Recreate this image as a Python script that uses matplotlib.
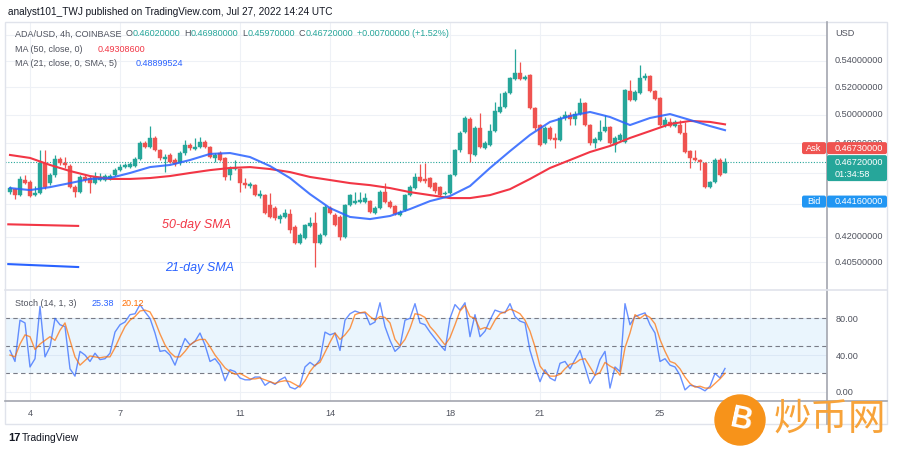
import numpy as np
import pandas as pd
import matplotlib
matplotlib.use("Agg")
import matplotlib.pyplot as plt
import matplotlib.dates as mdates
from matplotlib.patches import Rectangle, Circle, FancyBboxPatch
from matplotlib.lines import Line2D
from matplotlib.ticker import NullLocator, NullFormatter
from matplotlib.transforms import IdentityTransform

plt.rcParams['font.family'] = ['Liberation Sans', 'DejaVu Sans']

# ADA/USD 4h candles, first candle 2022-07-03 08:00
first_candle = "2022-07-03 08:00"
opens = [.4476, .4495, .4457, .4554, .4541, .4457, .4470, .4666, .4534, .4587,
         .4693, .4666, .4646, .4508, .4476, .4574, .4567, .4534, .4554, .4554,
         .4561, .4587, .4619, .4639, .4639, .4646, .4693, .4802, .4774, .4836,
         .4753, .4693, .4720, .4686, .4666, .4733, .4788, .4760, .4774, .4808,
         .4774, .4700, .4733, .4700, .4587, .4626, .4626, .4534, .4515, .4521,
         .4451, .4457, .4394, .4375, .4307, .4320, .4338, .4259, .4163, .4192,
         .4265, .4283, .4163, .4210, .4375, .4332, .4320, .4198, .4394, .4406,
         .4413, .4413, .4419, .4344, .4375, .4476, .4413, .4388, .4332, .4363,
         .4457, .4502, .4574, .4561, .4567, .4534, .4508, .4463, .4470, .4587,
         .4753, .4877, .4969, .4720, .4905, .4767, .4788, .4884, .5019, .5055,
         .5157, .5261, .5306, .5261, .5291, .5047, .4926, .4802, .4905, .4836,
         .4822, .4976, .4997, .4969, .5004, .5083, .4926, .4802, .4822, .4884,
         .4912, .4788, .4822, .4808, .5172, .5105, .5157, .5268, .5283, .5172,
         .5120, .4926, .4948, .4919, .4926, .4871, .4746, .4700, .4686, .4666,
         .4508, .4541, .4686, .4602]
highs = [.4515, .4502, .4580, .4587, .4554, .4515, .4753, .4753, .4600, .4720,
         .4706, .4706, .4660, .4521, .4587, .4587, .4580, .4606, .4600, .4593,
         .4593, .4633, .4660, .4666, .4673, .4706, .4815, .4815, .4919, .4850,
         .4760, .4727, .4733, .4700, .4746, .4822, .4802, .4836, .4843, .4822,
         .4781, .4733, .4746, .4706, .4646, .4686, .4633, .4567, .4541, .4528,
         .4489, .4463, .4470, .4388, .4338, .4369, .4369, .4271, .4222, .4277,
         .4320, .4351, .4222, .4394, .4388, .4344, .4332, .4400, .4463, .4476,
         .4476, .4470, .4425, .4388, .4489, .4534, .4425, .4394, .4363, .4463,
         .4521, .4600, .4660, .4666, .4574, .4541, .4515, .4483, .4593, .4760,
         .4884, .4990, .4983, .4919, .5011, .4815, .4933, .5091, .5157, .5172,
         .5276, .5491, .5390, .5291, .5299, .5055, .4933, .4919, .4919, .4871,
         .4990, .5026, .5019, .5026, .5120, .5091, .4933, .4843, .4962, .4997,
         .4919, .4850, .4871, .5186, .5253, .5179, .5367, .5306, .5291, .5179,
         .5127, .4983, .4976, .4962, .4962, .4948, .4753, .4753, .4693, .4673,
         .4547, .4700, .4700, .4698]
lows = [.4463, .4431, .4451, .4528, .4444, .4451, .4463, .4495, .4521, .4574,
        .4653, .4633, .4502, .4444, .4470, .4541, .4470, .4528, .4547, .4547,
        .4554, .4580, .4613, .4633, .4633, .4639, .4686, .4767, .4767, .4746,
        .4686, .4606, .4666, .4646, .4653, .4720, .4753, .4753, .4767, .4767,
        .4700, .4673, .4679, .4554, .4554, .4619, .4476, .4502, .4502, .4451,
        .4438, .4338, .4313, .4301, .4283, .4313, .4222, .4157, .4157, .4186,
        .4259, .4022, .4157, .4204, .4338, .4265, .4180, .4192, .4388, .4400,
        .4406, .4406, .4344, .4338, .4369, .4406, .4375, .4332, .4326, .4357,
        .4451, .4495, .4541, .4534, .4502, .4470, .4451, .4457, .4463, .4580,
        .4740, .4871, .4673, .4713, .4767, .4760, .4781, .4877, .5011, .5047,
        .5149, .5253, .5253, .5253, .5040, .4891, .4781, .4795, .4822, .4767,
        .4815, .4962, .4926, .4926, .4997, .4919, .4788, .4767, .4815, .4877,
        .4795, .4740, .4815, .4802, .5098, .5098, .5149, .5253, .5164, .5105,
        .4919, .4912, .4912, .4912, .4864, .4733, .4633, .4679, .4619, .4502,
        .4502, .4534, .4580, .4597]
closes = [.4502, .4457, .4561, .4534, .4451, .4470, .4666, .4508, .4587, .4693,
          .4666, .4653, .4508, .4476, .4574, .4554, .4534, .4574, .4574, .4580,
          .4580, .4619, .4639, .4653, .4660, .4693, .4802, .4774, .4836, .4753,
          .4700, .4706, .4673, .4660, .4733, .4788, .4767, .4774, .4808, .4774,
          .4706, .4720, .4686, .4574, .4633, .4633, .4534, .4521, .4528, .4457,
          .4463, .4344, .4320, .4313, .4326, .4344, .4240, .4163, .4210, .4271,
          .4283, .4163, .4210, .4382, .4344, .4271, .4198, .4394, .4457, .4419,
          .4425, .4438, .4351, .4375, .4476, .4413, .4382, .4338, .4351, .4457,
          .4508, .4574, .4547, .4547, .4508, .4483, .4457, .4470, .4587, .4753,
          .4871, .4976, .4727, .4905, .4774, .4802, .4884, .5026, .5055, .5157,
          .5268, .5306, .5261, .5276, .5047, .4905, .4788, .4905, .4829, .4822,
          .4976, .4997, .4969, .5004, .5083, .4926, .4802, .4829, .4877, .4912,
          .4802, .4836, .4857, .5179, .5105, .5164, .5268, .5283, .5172, .5112,
          .4926, .4962, .4919, .4948, .4871, .4740, .4700, .4686, .4673, .4508,
          .4541, .4686, .4587, .4672]

# moving averages, read every 4th candle (plus the last one)
ma50 = [.4720, .4700, .4653, .4613, .4580, .4561, .4561, .4567, .4580, .4600,
        .4619, .4633, .4639, .4626, .4606, .4574, .4554, .4534, .4521, .4502,
        .4476, .4457, .4438, .4438, .4457, .4495, .4561, .4633, .4686, .4740,
        .4781, .4836, .4884, .4933, .4955, .4948, .49309]
ma21 = [.4502, .4489, .4508, .4534, .4561, .4567, .4600, .4639, .4653, .4686,
        .4727, .4733, .4706, .4646, .4567, .4463, .4375, .4320, .4307, .4326,
        .4369, .4419, .4451, .4515, .4633, .4746, .4857, .4948, .4990, .5019,
        .4983, .4926, .4976, .5004, .4962, .4919, .48900]

# Stoch (14, 1, 3)
stoch_k = [45, 33, 78, 75, 27, 36, 93, 38, 49, 80,
           73, 71, 25, 17, 44, 40, 33, 42, 35, 36,
           42, 65, 73, 76, 84, 85, 95, 87, 80, 64,
           44, 45, 40, 29, 44, 58, 51, 55, 64, 51,
           33, 36, 29, 12, 24, 22, 15, 13, 13, 16,
           16, 7, 11, 8, 13, 16, 5, 3, 7, 27,
           32, 28, 35, 65, 62, 64, 45, 78, 85, 88,
           86, 86, 73, 76, 97, 71, 56, 44, 49, 78,
           80, 96, 75, 73, 65, 58, 51, 45, 80, 95,
           89, 97, 60, 84, 60, 66, 78, 89, 87, 86,
           96, 82, 77, 75, 45, 27, 11, 24, 15, 12,
           31, 33, 25, 35, 45, 27, 9, 18, 35, 44,
           4, 27, 22, 96, 73, 82, 84, 86, 73, 64,
           33, 36, 29, 27, 18, 2, 7, 6, 4, 1,
           6, 20, 15, 25.38]
stoch_d = [40, 38, 52, 62, 60, 46, 52, 56, 60, 56,
           67, 75, 56, 38, 29, 34, 39, 38, 37, 38,
           38, 48, 60, 71, 78, 82, 88, 89, 87, 77,
           63, 51, 43, 38, 38, 44, 51, 55, 57, 57,
           49, 40, 33, 26, 22, 19, 20, 17, 14, 14,
           15, 13, 11, 9, 11, 12, 11, 8, 5, 12,
           22, 29, 32, 43, 54, 64, 57, 62, 69, 84,
           86, 87, 82, 78, 82, 81, 75, 57, 50, 57,
           69, 85, 84, 81, 71, 65, 58, 51, 59, 73,
           88, 94, 82, 80, 68, 70, 68, 78, 85, 87,
           90, 88, 85, 78, 66, 49, 28, 21, 17, 17,
           19, 25, 30, 31, 35, 36, 27, 18, 21, 32,
           28, 25, 18, 48, 64, 84, 80, 84, 81, 74,
           57, 44, 33, 31, 25, 16, 9, 5, 6, 4,
           4, 9, 14, 20.12]

grid_prices = [0.405, 0.42, 0.44, 0.46, 0.48, 0.50, 0.52, 0.54, 0.56]
label_prices = [0.405, 0.42, 0.48, 0.50, 0.52, 0.54]   # the others sit under price tags
day_ticks = ["2022-07-04", "2022-07-07", "2022-07-11", "2022-07-14",
             "2022-07-18", "2022-07-21", "2022-07-25", "2022-07-28"]
last_price, ask_price, bid_price = 0.4672, 0.4673, 0.4416

UP, DOWN = '#26a69a', '#ef5350'
RED, BLUE, ORANGE = '#f23645', '#2962ff', '#ff6d00'
GREY = '#50535e'
W, H = 900, 454

o, h, l, c = map(np.array, (opens, highs, lows, closes))
times = pd.date_range(first_candle, periods=len(closes), freq="4h")
x = mdates.date2num(times)
ma_idx = list(range(0, len(closes) - 3, 4)) + [len(closes) - 1]
x_ma = x[ma_idx]
bar_w = 0.7 * 4 / 24

fig = plt.figure(figsize=(W / 100, H / 100), dpi=100)
ax = fig.add_axes([5 / W, 1 - 290 / H, 822 / W, 267 / H])
ax2 = fig.add_axes([5 / W, 1 - 401 / H, 822 / W, 111 / H], sharex=ax)

# candles
cols = np.where(c >= o, UP, DOWN)
ax.vlines(x, l, h, colors=cols, lw=0.9, zorder=2)
ax.bar(x, np.abs(c - o), bottom=np.minimum(o, c), width=bar_w, color=cols,
       edgecolor=cols, linewidth=0.3, zorder=2)
ax.plot(x_ma, ma50, color=RED, lw=1.5, zorder=3)
ax.plot(x_ma, ma21, color=BLUE, lw=1.5, alpha=0.85, zorder=3)
ax.axhline(last_price, color=UP, lw=0.8, ls=(0, (1, 1.5)), zorder=1)

ax.set_yscale('log')
ax.set_ylim(0.3892, 0.5699)
ax.set_xlim(mdates.date2num(pd.Timestamp("2022-07-03 04:00")),
            mdates.date2num(pd.Timestamp("2022-07-30 13:36")))
ax.yaxis.set_minor_locator(NullLocator())
ax.yaxis.set_minor_formatter(NullFormatter())
ax.set_yticks(grid_prices, [""] * len(grid_prices))
ax.tick_params(axis='both', length=0, labelbottom=False)
ax.grid(True, color='#eef1f6', lw=0.8)
ax.set_axisbelow(True)
for p in label_prices:
    ax.text(1.0097, p, f"{p:.8f}", transform=ax.get_yaxis_transform(),
            fontsize=6.6, color=GREY, va='center', clip_on=False)

# legend-style annotations
ax.plot([0.004, 0.089], [0.246, 0.240], transform=ax.transAxes, color=RED, lw=1.5)
ax.plot([0.004, 0.089], [0.097, 0.086], transform=ax.transAxes, color=BLUE, lw=1.5)
ax.text(0.191, 0.243, "50-day SMA", transform=ax.transAxes, color=RED,
        style='italic', fontsize=9, va='center')
ax.text(0.195, 0.082, "21-day SMA", transform=ax.transAxes, color=BLUE,
        style='italic', fontsize=9, va='center')

# stochastic pane
ax2.axhspan(20, 80, color='#2196f3', alpha=0.09, lw=0)
for lvl in (80, 50, 20):
    ax2.axhline(lvl, color='#787b86', lw=0.8, ls=(0, (4, 3)))
ax2.plot(x, stoch_k, color=BLUE, lw=1.0, alpha=0.7)
ax2.plot(x, stoch_d, color=ORANGE, lw=1.0, alpha=0.7)
ax2.set_ylim(-10.1, 110.9)
ax2.set_yticks([0, 40, 80], ["0.00", "40.00", "80.00"])
ax2.yaxis.tick_right()
ax2.tick_params(axis='y', length=0, pad=6, labelsize=6.6, labelcolor=GREY)
tick_dates = pd.to_datetime(day_ticks)
ax2.set_xticks(mdates.date2num(tick_dates), [str(d.day) for d in tick_dates])
ax2.tick_params(axis='x', length=0, pad=6, labelsize=6.6, labelcolor=GREY)
ax2.grid(True, color='#eef1f6', lw=0.8)
ax2.set_axisbelow(True)

for a in (ax, ax2):
    for s in a.spines.values():
        s.set_visible(False)

idt = IdentityTransform()
renderer = fig.canvas.get_renderer()


def ftext(px, py, s, **kw):
    kw.setdefault('fontsize', 6.6)
    kw.setdefault('va', 'center')
    return fig.text(px / W, 1 - py / H, s, **kw)


def chain(px, py, pieces, fs=6.5):
    # pieces: (text, colour, gap after in px)
    for s, col, gap in pieces:
        t = ftext(px, py, s, color=col, fontsize=fs)
        px += t.get_window_extent(renderer).width + gap


# frame lines
fig.add_artist(Rectangle((5, H - 424), 882, 402, fill=False, ec='#e0e3eb', lw=1, transform=idt))
fig.add_artist(Line2D([827, 827], [H - 22, H - 424], color='#a3a6af', lw=1.2, transform=idt))
fig.add_artist(Line2D([5, 887], [H - 290, H - 290], color='#e0e3eb', lw=1.2, transform=idt))
fig.add_artist(Line2D([5, 887], [H - 401, H - 401], color='#a3a6af', lw=1.2, transform=idt))

# price tags
_, dy = ax.transData.transform((x[-1], last_price))
_, by = ax.transData.transform((x[-1], bid_price))


def tag(x0, y0, w, hgt, color):
    fig.add_artist(FancyBboxPatch((x0, y0), w, hgt, boxstyle="round,pad=0,rounding_size=2",
                                  fc=color, ec='none', transform=idt, zorder=5))


tag(827, dy - 19, 60, 26, UP)
tag(827, dy + 8, 60, 12, DOWN)
tag(802, dy + 8, 24, 12, DOWN)
tag(827, by - 6, 60, 12, '#2196f3')
tag(802, by - 6, 24, 12, '#2196f3')
txt = dict(color='white', fontsize=6.6, va='center', transform=idt, zorder=6)
fig.text(835, dy, f"{last_price:.8f}", **txt)
fig.text(835, dy - 12, "01:34:58", **txt)
fig.text(835, dy + 14, f"{ask_price:.8f}", **txt)
fig.text(814, dy + 14, "Ask", ha='center', **txt)
fig.text(835, by, f"{bid_price:.8f}", **txt)
fig.text(814, by, "Bid", ha='center', **txt)
ftext(835, 33, "USD", color=GREY)

# header texts
ftext(8, 12, "analyst101_TWJ published on TradingView.com, Jul 27, 2022 14:24 UTC",
      color='#131722', fontsize=7.2)
chain(15, 34, [("ADA/USD, 4h, COINBASE", GREY, 4),
               ("O", GREY, 0), ("0.46020000", UP, 4),
               ("H", GREY, 0), ("0.46980000", UP, 4),
               ("L", GREY, 0), ("0.45970000", UP, 4),
               ("C", GREY, 0), ("0.46720000", UP, 4),
               ("+0.00700000 (+1.52%)", UP, 0)])
ftext(15, 49, "MA (50, close, 0)", color=GREY, fontsize=6.5)
ftext(98, 49, "0.49308600", color=RED, fontsize=6.5)
ftext(15, 63, "MA (21, close, 0, SMA, 5)", color=GREY, fontsize=6.5)
ftext(136, 63, "0.48899524", color=BLUE, fontsize=6.5)
ftext(15, 303, "Stoch (14, 1, 3)", color=GREY, fontsize=6.5)
ftext(92, 303, "25.38", color=BLUE, fontsize=6.5)
ftext(122, 303, "20.12", color=ORANGE, fontsize=6.5)

# footer logo
ftext(8, 438, "17", color='#131722', fontsize=8, weight='bold')
ftext(22, 438, "TradingView", color='#131722', fontsize=7.5)

# watermark
fig.add_artist(Circle((740, H - 420), 25, color='#f7931a', transform=idt, zorder=10))
fig.text(741, H - 420, "B", color='white', fontsize=22, weight='bold', rotation=-12,
         ha='center', va='center', transform=idt, zorder=11)
ftext(830, 419, "炒币网", color='#f7a33a', fontsize=27, ha='center',
      family=['Noto Sans CJK SC', 'DejaVu Sans'], zorder=11)

fig.savefig("out.png", dpi=100)
